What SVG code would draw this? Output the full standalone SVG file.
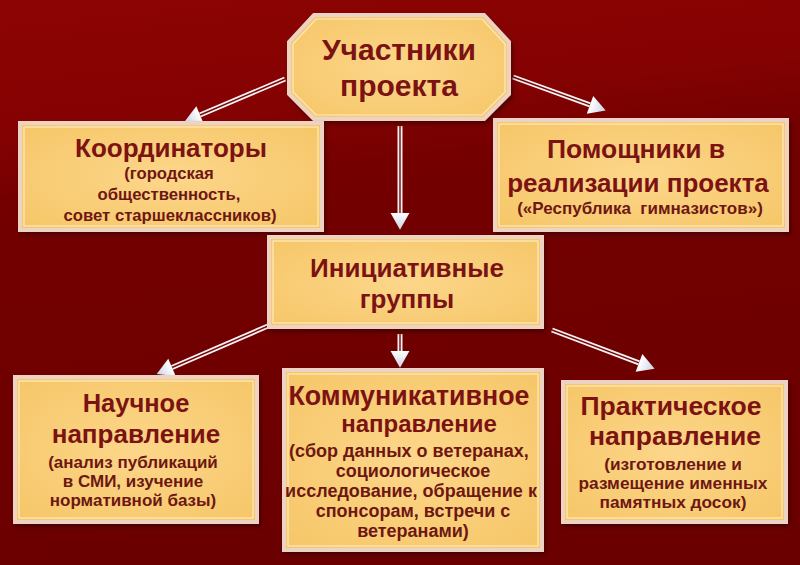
<svg xmlns="http://www.w3.org/2000/svg" width="800" height="565" viewBox="0 0 800 565">
<defs>
<linearGradient id="bg" x1="0" y1="0" x2="0.15" y2="1">
<stop offset="0" stop-color="#8d0404"/>
<stop offset="0.22" stop-color="#860202"/>
<stop offset="0.36" stop-color="#740000"/>
<stop offset="1" stop-color="#6b0000"/>
</linearGradient>
<radialGradient id="boxfill" cx="0.5" cy="0.5" r="0.7">
<stop offset="0" stop-color="#fcd68a"/>
<stop offset="1" stop-color="#f6c667"/>
</radialGradient>
<linearGradient id="headfill" x1="0" y1="0" x2="1" y2="0">
<stop offset="0" stop-color="#ffffff"/>
<stop offset="1" stop-color="#c9d3e6"/>
</linearGradient>
<marker id="head" markerUnits="userSpaceOnUse" orient="auto" markerWidth="18" markerHeight="20" refX="0" refY="9" viewBox="0 0 16 18" overflow="visible">
<path d="M0,0.5 L15,9 L0,17.5 z" fill="url(#headfill)"/>
</marker>
<filter id="sh" x="-10%" y="-10%" width="120%" height="130%">
<feDropShadow dx="2" dy="3" stdDeviation="2" flood-color="#300000" flood-opacity="0.6"/>
</filter>
</defs>
<style>
.box{fill:url(#boxfill);stroke:#ecd3c4;stroke-width:4;filter:url(#sh)}
.inner{fill:none;stroke:#fde9c4;stroke-width:1.2}
.t{font-family:"Liberation Sans",Arial,sans-serif;font-weight:bold;fill:#7c1212;text-anchor:middle}
.s{font-family:"Liberation Sans",Arial,sans-serif;font-weight:bold;fill:#6e1712;text-anchor:middle}
.aw{stroke:#f4f4f6;stroke-width:5;fill:none}
.ar{stroke:#7a0606;stroke-width:1.4;fill:none;marker-end:url(#head)}
</style>
<rect width="800" height="565" fill="url(#bg)"/>

<g id="connectors">
<path class="aw" d="M285,79 L200,115"/><path class="ar" d="M285,79 L200,115"/>
<path class="aw" d="M513,77 L590,104.8"/><path class="ar" d="M513,77 L590,104.8"/>
<path class="aw" d="M400,126 L400,213"/><path class="ar" d="M400,126 L400,213"/>
<path class="aw" d="M400,334 L400,351"/><path class="ar" d="M400,334 L400,351"/>
<path class="aw" d="M268,326 L172,367.5"/><path class="ar" d="M268,326 L172,367.5"/>
<path class="aw" d="M552,330 L639,362.8"/><path class="ar" d="M552,330 L639,362.8"/>
</g>

<g id="participants">
<polygon class="box" points="314,15 484,15 509,42 509,94 484,119 314,119 289,94 289,42"/>
<polygon class="inner" points="316,19 482,19 505,44 505,92 482,115 316,115 293,92 293,44"/>
<text class="t" x="399" y="60" font-size="30">Участники</text>
<text class="t" x="399" y="96" font-size="30">проекта</text>
</g>

<g id="coordinators">
<rect class="box" x="20" y="123" width="302" height="107"/>
<rect class="inner" x="24" y="127" width="294" height="99"/>
<text class="t" x="171" y="157" font-size="26">Координаторы</text>
<text class="s" x="169" y="179" font-size="16.7">(городская</text>
<text class="s" x="169" y="200" font-size="16.7">общественность,</text>
<text class="s" x="170" y="221" font-size="16.7">совет старшеклассников)</text>
</g>

<g id="helpers">
<rect class="box" x="495" y="120" width="292" height="110"/>
<rect class="inner" x="499" y="124" width="284" height="102"/>
<text class="t" x="636" y="158" font-size="26.5">Помощники в</text>
<text class="t" x="638" y="192" font-size="26">реализации проекта</text>
<text class="s" x="640" y="214" font-size="17" xml:space="preserve">(«Республика  гимназистов»)</text>
</g>

<g id="initiative">
<rect class="box" x="269" y="237" width="273" height="90"/>
<rect class="inner" x="273" y="241" width="265" height="82"/>
<text class="t" x="407" y="277" font-size="26">Инициативные</text>
<text class="t" x="407" y="308" font-size="26">группы</text>
</g>

<g id="scientific">
<rect class="box" x="15" y="377" width="242" height="145"/>
<rect class="inner" x="19" y="381" width="234" height="137"/>
<text class="t" x="136" y="412" font-size="25.5">Научное</text>
<text class="t" x="136" y="443" font-size="26">направление</text>
<text class="s" x="133" y="468" font-size="17">(анализ публикаций</text>
<text class="s" x="133" y="487" font-size="17">в СМИ, изучение</text>
<text class="s" x="133" y="506" font-size="17">нормативной базы)</text>
</g>

<g id="communicative">
<rect class="box" x="284" y="370" width="258" height="180"/>
<rect class="inner" x="288" y="374" width="250" height="172"/>
<text class="t" x="409" y="405" font-size="26.8">Коммуникативное</text>
<text class="t" x="419" y="432" font-size="24">направление</text>
<text class="s" x="409" y="457" font-size="18">(сбор данных о ветеранах,</text>
<text class="s" x="413" y="477" font-size="18">социологическое</text>
<text class="s" x="411" y="497" font-size="18">исследование, обращение к</text>
<text class="s" x="413" y="517" font-size="18">спонсорам, встречи с</text>
<text class="s" x="413" y="537" font-size="18">ветеранами)</text>
</g>

<g id="practical">
<rect class="box" x="563" y="382" width="223" height="140"/>
<rect class="inner" x="567" y="386" width="215" height="132"/>
<text class="t" x="671" y="415" font-size="26.5">Практическое</text>
<text class="t" x="675" y="445" font-size="26.5">направление</text>
<text class="s" x="673" y="470" font-size="17.3">(изготовление и</text>
<text class="s" x="673" y="489" font-size="17.3">размещение именных</text>
<text class="s" x="673" y="508" font-size="17.3">памятных досок)</text>
</g>
</svg>
